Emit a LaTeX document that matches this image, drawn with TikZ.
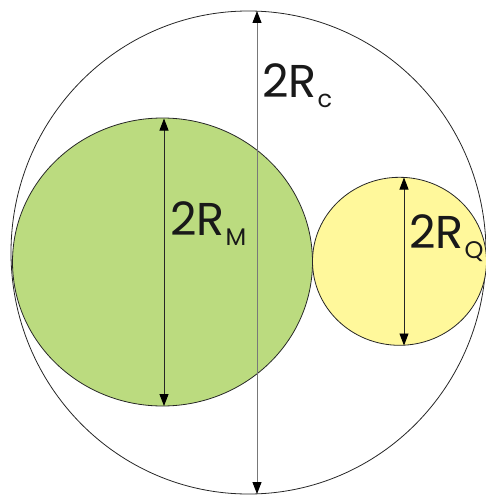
\documentclass[tikz,border=0pt]{standalone}
\usepackage{fontspec}
\setmainfont{Poppins}
\usetikzlibrary{arrows.meta}
\definecolor{mgreen}{RGB}{187,219,127}
\definecolor{qyellow}{RGB}{255,248,155}
\definecolor{linegray}{RGB}{120,120,120}
\newcommand{\dimlabel}[1]{\fontsize{46}{46}\selectfont 2R\kern1pt\raisebox{-10pt}{\fontsize{24}{24}\selectfont #1}}
\begin{document}
\begin{tikzpicture}[x=1pt,y=-1pt,
  outline/.style={draw=black!85, line width=0.8pt},
  tip/.style={{Triangle[length=12pt,width=9pt,color=black]}-{Triangle[length=12pt,width=9pt,color=black]}},
  dimarrow/.style={tip, line width=0.9pt, draw=black!85, shorten <=0pt, shorten >=0pt},
  bigarrow/.style={tip, line width=1pt, draw=linegray},
  lbl/.style={inner sep=0pt, anchor=base west, text=black!90}]
\useasboundingbox (0,0) rectangle (486,495);
% big circle
\draw[outline] (248.5,252.5) ellipse [x radius=237.5, y radius=241.5];
% green circle
\draw[outline, fill=mgreen] (162.5,262) ellipse [x radius=150, y radius=144];
% yellow circle
\draw[outline, fill=qyellow] (399.5,261.3) ellipse [x radius=87, y radius=84];
% coordinates
\coordinate (ct) at (257,11);
\coordinate (cb) at (257,494);
\coordinate (mt) at (164,118.5);
\coordinate (mb) at (164,406);
\coordinate (qt) at (404,177.5);
\coordinate (qb) at (404,345.5);
% arrows
\draw[bigarrow] (ct) -- (cb);
\draw[dimarrow] (mt) -- (mb);
\draw[dimarrow] (qt) -- (qb);
% labels
\node[lbl] (lc) at (262,97) {\dimlabel{c}};
\node[lbl] (lm) at (170,235) {\dimlabel{M}};
\node[lbl] (lq) at (409,248) {\dimlabel{Q}};
\end{tikzpicture}
\end{document}
